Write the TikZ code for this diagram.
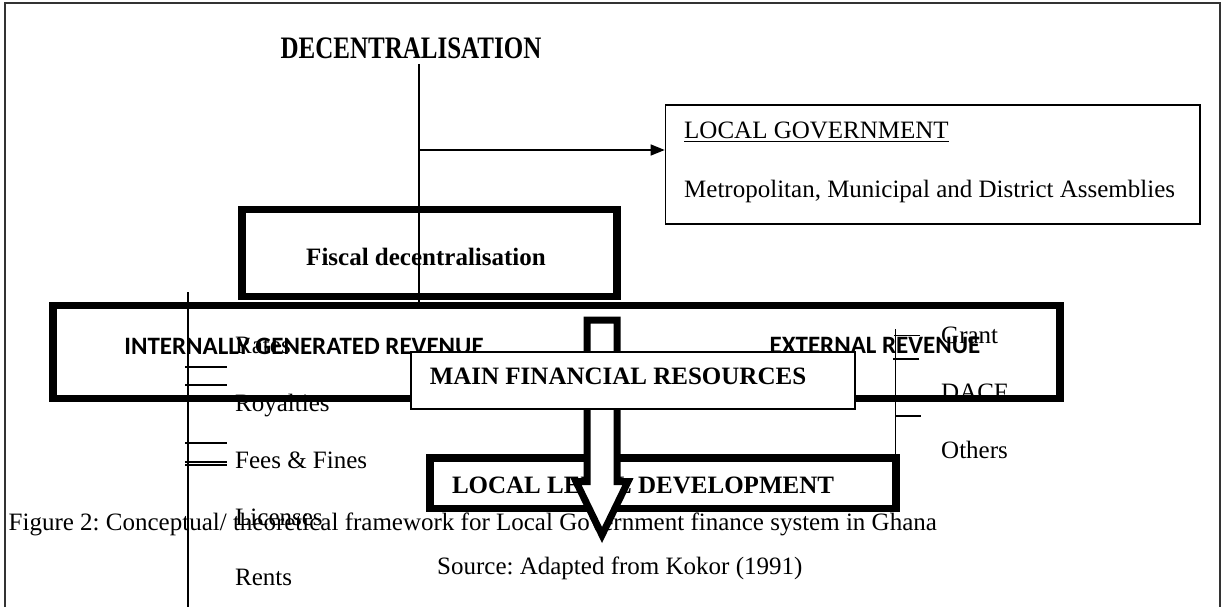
\documentclass[tikz,border=0pt]{standalone}
\usepackage{fontspec}
\setmainfont{Liberation Serif}
\newfontfamily\calfont{Carlito}
\usetikzlibrary{arrows.meta}
\frenchspacing
\begin{document}
\begin{tikzpicture}[x=1pt,y=-1pt,
  txt/.style={inner sep=0pt, font=\fontsize{25}{30}\selectfont},
  btxt/.style={inner sep=0pt, font=\fontsize{25}{30}\selectfont\bfseries},
  ctxt/.style={inner sep=0pt, font=\fontsize{25}{30}\selectfont\calfont\bfseries},
  thickbox/.style={draw, line width=7.5pt, inner sep=0pt},
  thinbox/.style={draw, line width=1.6pt, inner sep=0pt},
  conn/.style={line width=1.4pt},
  tickln/.style={line width=1.3pt},
  frame/.style={draw=black!80, line width=1.5pt}]
\useasboundingbox (0,0) rectangle (1222,607);
\fill[white] (0,0) rectangle (1222,607);
% outer frame
\draw[frame] (5,607) -- (5,3) -- (1220,3) -- (1220,607);

% title
\node[btxt, anchor=base] (dec) at (411,59) {\scalebox{1}[1.25]{DECENTRALISATION}};

% local government box
\node[thinbox, minimum width=534.5pt, minimum height=119pt] (lg) at (932.75,164.5) {};
\node[txt, anchor=base west] (lgt) at (684,139) {\underline{LOCAL GOVERNMENT}};
\node[txt, anchor=base west] (mma) at (684,197) {Metropolitan, Municipal and District Assemblies};

% fiscal decentralisation box
\node[thickbox, minimum width=375pt, minimum height=87pt] (fis) at (429.5,253) {};
\node[btxt, anchor=base] (fist) at (426,265) {Fiscal decentralisation};

% connectors from decentralisation
\coordinate (v1) at (419,64);
\coordinate (br) at (419,150);
\draw[conn] (v1) -- (419,303);
\draw[conn, -{Triangle[length=14pt,width=11pt]}] (br) -- (br -| lg.west);

% left list (internal sources)
\coordinate (la) at (188,292);
\coordinate (lb) at (188,607);
\draw[conn] (la) -- (lb);
\foreach \yy in {367,385,443,462,465} {\draw[tickln] (185,\yy) -- (227,\yy);}
\node[txt, anchor=base west] (rates) at (235,353) {Rates};
\node[txt, anchor=base west] (roy) at (235,411) {Royalties};
\node[txt, anchor=base west] (fees) at (235,468.5) {Fees \& Fines};
\node[txt, anchor=base west] (lic) at (235,525) {Licenses};
\node[txt, anchor=base west] (rents) at (235,585) {Rents};

% right list (external sources)
\coordinate (ra) at (895.5,329);
\coordinate (rb) at (895.5,458);
\draw[conn] (ra) -- (rb);
\draw[tickln] (894,335.5) -- (919.5,335.5);
\draw[tickln] (893,359) -- (919,359);
\draw[tickln] (895.5,416) -- (921,416);
\node[txt, anchor=base west] (grant) at (941,343) {Grant};
\node[txt, anchor=base west] (dacf) at (941,400.5) {DACF};
\node[txt, anchor=base west] (oth) at (941,458.5) {Others};

% revenue box
\node[thickbox, minimum width=1007pt, minimum height=93pt] (igr) at (556.5,352) {};
\node[ctxt, anchor=base] (igrt) at (304,354) {INTERNALLY GENERATED REVENUE};
\node[ctxt, anchor=base] (ext) at (875,353.5) {EXTERNAL REVENUE};

% local level development box
\node[thickbox, minimum width=466pt, minimum height=50.5pt] (lld) at (663,483.25) {};
\node[btxt, anchor=base] (lldt) at (643,493.5) {LOCAL LEVEL DEVELOPMENT};

% caption
\node[txt, anchor=base west] (cap) at (8.5,530) {Figure 2: Conceptual/ theoretical framework for Local Government finance system in Ghana};
\node[txt, anchor=base west] (src) at (437,574) {Source: Adapted from Kokor (1991)};

% block arrow
\draw[line width=7pt, fill=white, line join=miter, miter limit=10]
  (587,320) -- (617,320) -- (617,481.5) -- (628,481.5) -- (602,535) -- (576,481.5) -- (587,481.5) -- cycle;

% main financial resources box
\node[thinbox, fill=white, minimum width=444pt, minimum height=57pt] (mfr) at (633,380.5) {};
\node[btxt, anchor=base] (mfrt) at (618,384) {MAIN FINANCIAL RESOURCES};
\end{tikzpicture}
\end{document}
